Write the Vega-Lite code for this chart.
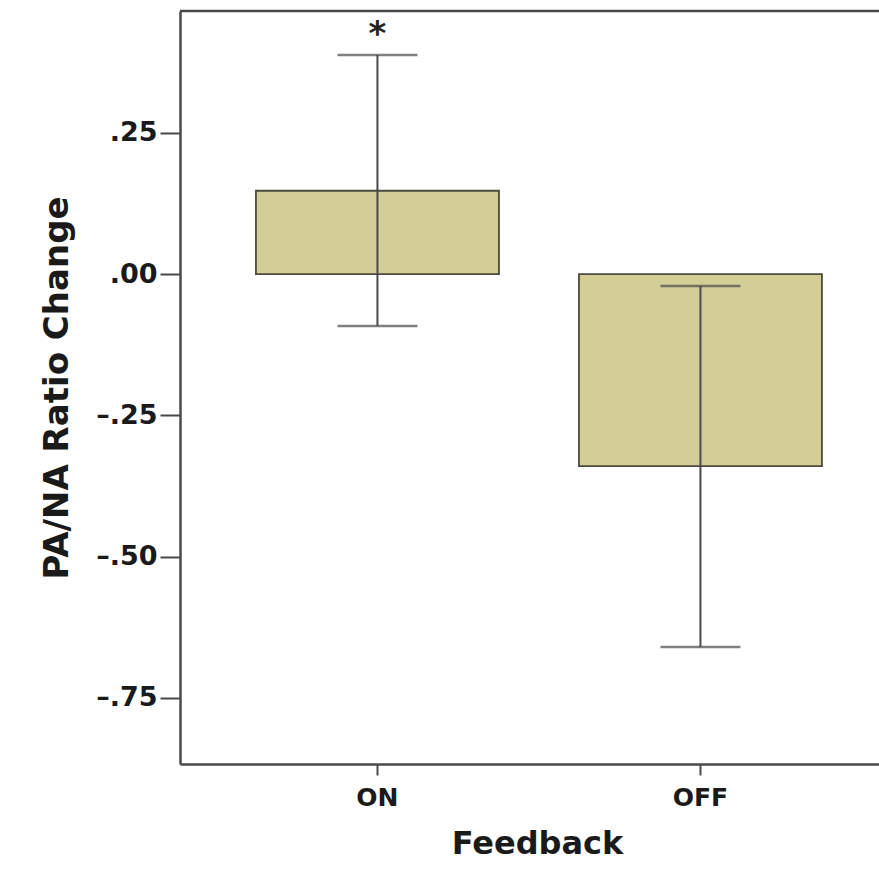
{
  "$schema": "https://vega.github.io/schema/vega-lite/v6.json",
  "width": 699,
  "height": 753,
  "autosize": {"type": "none"},
  "padding": {"left": 180, "top": 11, "right": 0, "bottom": 109},
  "background": "white",
  "config": {
    "view": {"stroke": null},
    "font": "DejaVu Sans",
    "axis": {
      "domainColor": "#4a4a4a",
      "domainWidth": 2.5,
      "tickColor": "#4a4a4a",
      "tickWidth": 2,
      "grid": false,
      "labelFont": "DejaVu Sans",
      "labelFontWeight": "bold",
      "labelColor": "#1a1a1a",
      "titleFont": "DejaVu Sans",
      "titleFontWeight": "bold",
      "titleColor": "#1a1a1a"
    }
  },
  "layer": [
    {
      "data": {
        "name": "stats",
        "values": [
          {"Feedback": "ON", "mean": 0.1474, "lower": -0.092, "upper": 0.3876, "sig": "*"},
          {"Feedback": "OFF", "mean": -0.3398, "lower": -0.660, "upper": -0.0212, "sig": ""}
        ]
      },
      "encoding": {
        "x": {
          "field": "Feedback",
          "type": "nominal",
          "sort": ["ON", "OFF"],
          "scale": {"paddingInner": 0.2477, "paddingOuter": 0.2059, "align": 0.571, "round": false},
          "axis": {
            "title": "Feedback",
            "labelAngle": 0,
            "labelFontSize": 25,
            "labelPadding": 10,
            "tickSize": 11,
            "titleFontSize": 32,
            "titlePadding": 18,
            "titleX": 357
          }
        }
      },
      "layer": [
        {
          "mark": {"type": "bar", "fill": "#d3ce95", "stroke": "#4a4a3e", "strokeWidth": 1.8},
          "encoding": {
            "y": {
              "field": "mean",
              "type": "quantitative",
              "scale": {"domain": [-0.867, 0.4655], "nice": false, "zero": false},
              "axis": {
                "title": "PA/NA Ratio Change",
                "values": [-0.75, -0.5, -0.25, 0, 0.25],
                "labelExpr": "replace(replace(format(datum.value, '.2f'), '0.', '.'), '−', '–')",
                "labelFontSize": 27,
                "labelPadding": 3,
                "tickSize": 20,
                "titleFontSize": 34,
                "titlePadding": 21
              }
            },
            "y2": {"datum": 0}
          }
        },
        {
          "mark": {"type": "rule", "color": "#4a4a4a", "strokeWidth": 2},
          "encoding": {
            "y": {"field": "lower", "type": "quantitative"},
            "y2": {"field": "upper"}
          }
        },
        {
          "mark": {"type": "tick", "color": "#4a4a4a", "thickness": 2.5, "size": 80},
          "encoding": {"y": {"field": "lower", "type": "quantitative"}}
        },
        {
          "mark": {"type": "tick", "color": "#4a4a4a", "thickness": 2.5, "size": 80},
          "encoding": {"y": {"field": "upper", "type": "quantitative"}}
        },
        {
          "mark": {"type": "text", "fontSize": 34, "fontWeight": "bold", "font": "DejaVu Sans", "color": "#222222", "baseline": "middle", "dy": 5},
          "encoding": {
            "y": {"datum": 0.432},
            "text": {"field": "sig"}
          }
        }
      ]
    },
    {
      "data": {"values": [{"top": 0.4655}]},
      "mark": {"type": "rule", "color": "#4a4a4a", "strokeWidth": 2.5},
      "encoding": {"y": {"field": "top", "type": "quantitative"}}
    }
  ]
}
